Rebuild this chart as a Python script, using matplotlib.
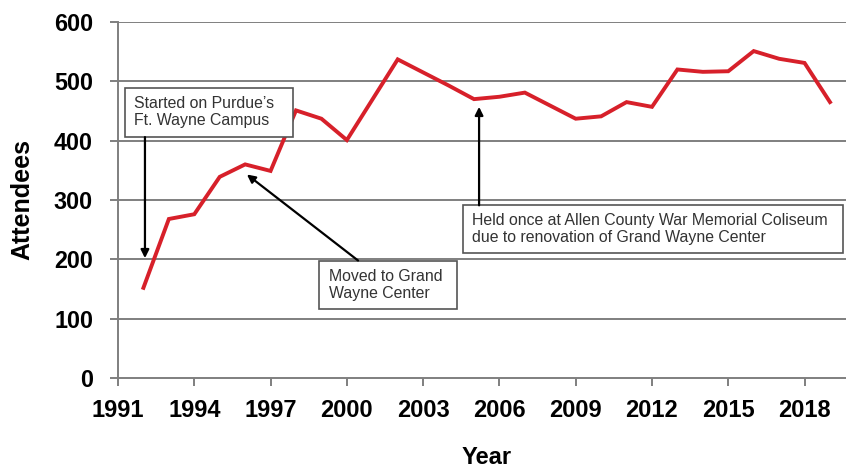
import matplotlib
matplotlib.use("Agg")
import matplotlib.pyplot as plt
from matplotlib.patches import Rectangle

years = list(range(1992, 2020))
attendees = [152, 268, 276, 339, 360, 349, 451, 437, 401, 469, 537, 515, 493, 470,
             474, 481, 459, 437, 441, 465, 457, 520, 516, 517, 551, 538, 531, 465]
xticks = [1991, 1994, 1997, 2000, 2003, 2006, 2009, 2012, 2015, 2018]
yticks = [0, 100, 200, 300, 400, 500, 600]

plt.rcParams['font.family'] = ['Liberation Sans', 'DejaVu Sans']

fig = plt.figure(figsize=(8.46, 4.71), dpi=100)
ax = fig.add_axes([118/846, 1 - 378/471, 1 - 118/846, (378 - 22)/471])

grid_c = '#7f7f7f'
for y in yticks[1:]:
    ax.axhline(y, color=grid_c, lw=1.4, zorder=1)

ax.plot(years, attendees, color='#d7202a', lw=2.8, zorder=3, solid_joinstyle='miter')

ax.set_xlim(1991, 2019.63)
ax.set_ylim(0, 600)
ax.set_xticks(xticks)
ax.set_yticks(yticks)
ax.set_xticklabels([str(x) for x in xticks], fontsize=17, fontweight='bold')
ax.set_yticklabels([str(y) for y in yticks], fontsize=16.8, fontweight='bold')
ax.tick_params(axis='x', direction='out', length=6, width=1.4, color=grid_c, pad=9)
ax.tick_params(axis='y', direction='out', length=6, width=1.4, color=grid_c, pad=12)
for s in ['top', 'right']:
    ax.spines[s].set_visible(False)
for s in ['left', 'bottom']:
    ax.spines[s].set_color(grid_c)
    ax.spines[s].set_linewidth(1.4)

ax.set_ylabel('Attendees', fontsize=18, fontweight='bold')
ax.yaxis.set_label_coords(-0.115, 0.5)
ax.set_xlabel('Year', fontsize=17, fontweight='bold')
ax.xaxis.set_label_coords(0.507, -0.19)

txt_c = '#333333'
box_c = '#555555'

def box(x0, x1, y0, y1):
    ax.add_patch(Rectangle((x0, y0), x1 - x0, y1 - y0, facecolor='white',
                           edgecolor=box_c, lw=1.2, zorder=4, clip_on=False))

# Box 1
box(1991.28, 1997.88, 406, 489)
ax.text(1991.63, 448, "Started on Purdue\u2019s\nFt. Wayne Campus", fontsize=11.4,
        color=txt_c, va='center', ha='left', zorder=5, linespacing=1.15)
ax.annotate('', xy=(1992.06, 202), xytext=(1992.06, 406),
            arrowprops=dict(arrowstyle='-|>', color='black', lw=1.6,
                            mutation_scale=12, shrinkA=0, shrinkB=0), zorder=5)

# Box 2
box(1998.90, 2004.33, 116, 197)
ax.text(1999.30, 157, "Moved to Grand\nWayne Center", fontsize=11.4,
        color=txt_c, va='center', ha='left', zorder=5, linespacing=1.15)
ax.annotate('', xy=(1996.07, 343), xytext=(2000.44, 198),
            arrowprops=dict(arrowstyle='-|>', color='black', lw=1.6,
                            mutation_scale=12, shrinkA=0, shrinkB=0), zorder=5)

# Box 3
box(2004.55, 2019.5, 210, 291)
ax.text(2004.94, 251, "Held once at Allen County War Memorial Coliseum\ndue to renovation of Grand Wayne Center",
        fontsize=11.4, color=txt_c, va='center', ha='left', zorder=5, linespacing=1.15)
ax.annotate('', xy=(2005.2, 457), xytext=(2005.2, 291),
            arrowprops=dict(arrowstyle='-|>', color='black', lw=1.6,
                            mutation_scale=12, shrinkA=0, shrinkB=0), zorder=5)

fig.savefig('out.png', dpi=100)
